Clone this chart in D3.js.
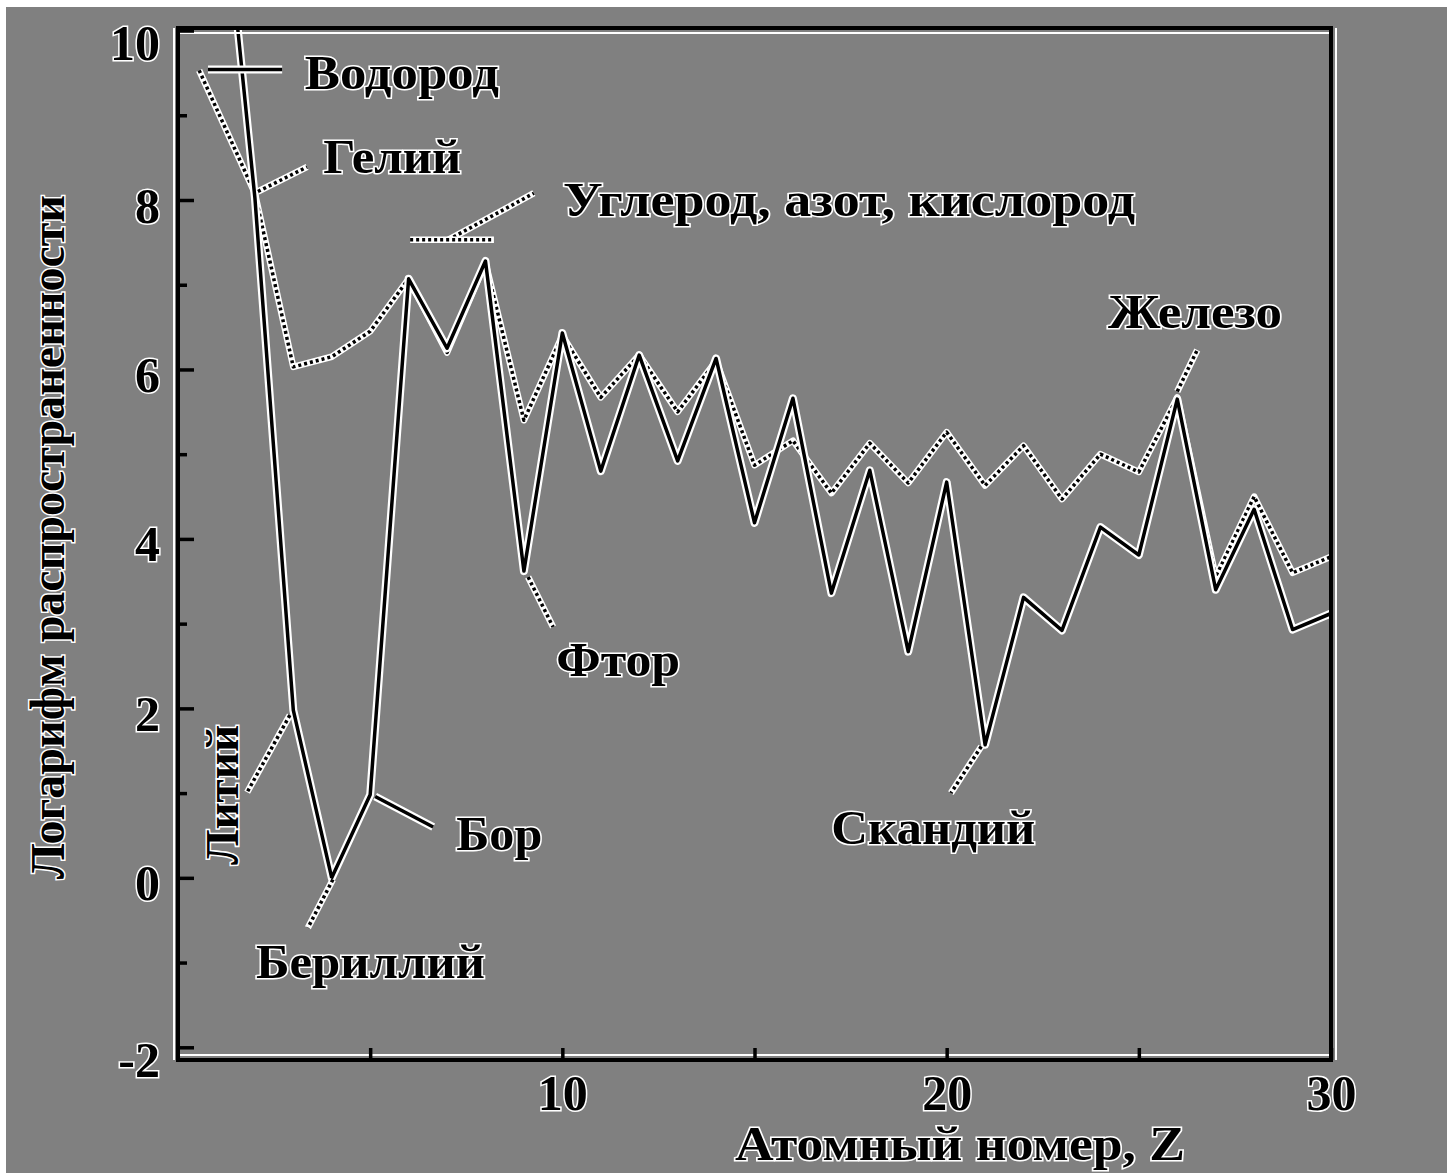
<html><head>
<title>Распространенность элементов</title>
<style>
body { margin: 0; background: #fff; }
svg { display: block; }
.lbl { font-family: "Liberation Serif", "DejaVu Serif", serif; font-weight: bold; fill: #000;
       stroke: #fff; stroke-width: 3px; paint-order: stroke fill; }
</style>
<script src="https://cdnjs.cloudflare.com/ajax/libs/d3/7.8.5/d3.min.js"></script>
</head>
<body>
<script>
// atomic number and log abundance
const solidZ = [1, 2, 3, 4, 5, 6, 7, 8, 9, 10, 11, 12, 13, 14, 15, 16, 17, 18, 19, 20,
                21, 22, 23, 24, 25, 26, 27, 28, 29, 30];
const solidValues = [12.5, 8.03, 1.98, 0.0, 0.98, 7.07, 6.25, 7.28, 3.62, 6.43, 4.8, 6.17, 4.92, 6.13, 4.19,
                     5.66, 3.36, 4.81, 2.67, 4.67, 1.57, 3.31, 2.92, 4.14, 3.81, 5.65, 3.4, 4.35, 2.93, 3.12];

const dottedZ = [0.55, 2, 3, 4, 5, 6, 7, 8, 9, 10, 11, 12, 13, 14, 15, 16, 17, 18, 19, 20,
                 21, 22, 23, 24, 25, 26, 27, 28, 29, 30];
const dottedValues = [9.53, 8.08, 6.03, 6.15, 6.45, 7.07, 6.2, 7.26, 5.4, 6.4, 5.67, 6.17, 5.5, 6.1, 4.87,
                      5.16, 4.54, 5.13, 4.66, 5.26, 4.63, 5.1, 4.47, 5.0, 4.79, 5.67, 3.55, 4.5, 3.6, 3.79];

const yMajor = [-2, 0, 2, 4, 6, 8, 10];
const yMinor = [-1, 1, 3, 5, 7, 9];
const xTicks = [5, 10, 15, 20, 25, 30];
const xLabelled = [10, 20, 30];

// element names: text, anchor point (z, v), width, leader from/to, leader style
const labels = [
  {text: "Водород", z: 3.3, v: 9.5, w: 194, from: [0.78, 9.54], to: [2.71, 9.54], style: "solid"},
  {text: "Гелий", z: 3.78, v: 8.5, w: 138, from: [2.08, 8.1], to: [3.36, 8.39], style: "dot"},
  {text: "Углерод, азот, кислород", z: 10.02, v: 8.0, w: 572, from: [7.03, 7.53], to: [9.26, 8.08], style: "dot"},
  {text: "Железо", z: 24.2, v: 6.68, w: 174, from: [26.0, 5.74], to: [26.52, 6.23], style: "dot"},
  {text: "Фтор", z: 9.84, v: 2.57, w: 124, from: [9.11, 3.55], to: [9.76, 2.96], style: "dot"},
  {text: "Скандий", z: 17.0, v: 0.59, w: 204, from: [20.9, 1.55], to: [20.11, 1.0], style: "dot"},
  {text: "Бор", z: 7.24, v: 0.51, w: 86, from: [5.13, 0.96], to: [6.64, 0.6], style: "solid"},
  {text: "Бериллий", z: 2.03, v: -1.0, w: 229, from: [4.03, -0.02], to: [3.38, -0.59], style: "dot"}
];
const lithium = {text: "Литий", z: 1.09, v: 0.98, w: 140, from: [2.91, 1.92], to: [1.8, 1.01]};
const cnoBracket = [[6.04, 7.53], [8.22, 7.53]];

const W = 1447, H = 1173;
const svg = d3.select("body").append("svg").attr("width", W).attr("height", H);

svg.append("rect").attr("x", 6).attr("y", 7).attr("width", W - 6).attr("height", H - 7).attr("fill", "#808080");

const x = d3.scaleLinear().domain([0, 30]).range([178, 1331]);
const y = d3.scaleLinear().domain([-2.15, 10.03]).range([1060, 28]);

const x0 = x(0), x1 = x(30), y0 = y(-2.15), y1 = y(10.03);

svg.append("clipPath").attr("id", "plot")
  .append("rect").attr("x", x0).attr("y", y1).attr("width", x1 - x0).attr("height", y0 - y1);

// line styles that imitate the embossed scan
function stroke(sel, style) {
  if (style === "solid") {
    sel.clone().attr("stroke", "#fff").attr("stroke-width", 8);
    sel.attr("stroke", "#000").attr("stroke-width", 3.5).raise();
  } else {
    sel.clone().attr("stroke", "#fff").attr("stroke-width", 6.5);
    sel.attr("stroke", "#000").attr("stroke-width", 3.5).attr("stroke-dasharray", "3,3").raise();
  }
}

const line = d3.line().x(d => x(d[0])).y(d => y(d[1]));
const g = svg.append("g").attr("clip-path", "url(#plot)");

const solidPts = solidZ.map((z, i) => [z, solidValues[i]]);
const dottedPts = dottedZ.map((z, i) => [z, dottedValues[i]]);

stroke(g.append("path").attr("d", line(dottedPts)).attr("fill", "none").attr("stroke-linejoin", "round"), "dot");
stroke(g.append("path").attr("d", line(solidPts)).attr("fill", "none").attr("stroke-linejoin", "round"), "solid");

// leaders
labels.concat([lithium]).forEach(l => {
  stroke(svg.append("path").attr("d", line([l.from, l.to])).attr("fill", "none"), l.style || "dot");
});
stroke(svg.append("path").attr("d", line(cnoBracket)).attr("fill", "none"), "dot");

// frame
const frame = svg.append("g");
frame.append("line").attr("x1", x0).attr("x2", x1).attr("y1", y1 + 5).attr("y2", y1 + 5).attr("stroke", "#fff").attr("stroke-width", 2);
frame.append("line").attr("x1", x0).attr("x2", x1).attr("y1", y0 - 5).attr("y2", y0 - 5).attr("stroke", "#fff").attr("stroke-width", 2);
frame.append("line").attr("x1", x0 - 4).attr("x2", x0 - 4).attr("y1", y1).attr("y2", y0).attr("stroke", "#fff").attr("stroke-width", 2);
frame.append("line").attr("x1", x1 + 5).attr("x2", x1 + 5).attr("y1", y1).attr("y2", y0).attr("stroke", "#fff").attr("stroke-width", 2);
frame.append("rect").attr("x", x0).attr("y", y1).attr("width", x1 - x0).attr("height", y0 - y1)
  .attr("fill", "none").attr("stroke", "#000").attr("stroke-width", 4);

// axes
const fontCss = "font-family:'Liberation Serif',serif;font-weight:bold;font-size:50px";

const yAxis = svg.append("g").attr("transform", `translate(${x0},0)`)
  .call(d3.axisLeft(y).tickValues(yMajor).tickSize(-16).tickPadding(18).tickFormat(d => d === -2 ? "-2" : d));
const yAxisMinor = svg.append("g").attr("transform", `translate(${x0},0)`)
  .call(d3.axisLeft(y).tickValues(yMinor).tickSize(-9).tickFormat(""));
const xAxis = svg.append("g").attr("transform", `translate(0,${y0})`)
  .call(d3.axisBottom(x).tickValues(xTicks).tickSize(-12).tickPadding(14)
    .tickFormat(d => xLabelled.includes(d) ? d : ""));

[yAxis, yAxisMinor, xAxis].forEach(a => {
  a.select(".domain").remove();
  a.selectAll(".tick line").attr("stroke", "#000").attr("stroke-width", 3.5);
  a.selectAll(".tick text").attr("class", "lbl").attr("style", fontCss).attr("fill", "#000");
});
// the scanned labels sit a little lower than their ticks
yAxis.selectAll(".tick text").attr("dy", d => (d === 10 || d === -2) ? 29 : 22);

// texts
labels.forEach(l => {
  svg.append("text").attr("class", "lbl")
    .attr("x", x(l.z)).attr("y", y(l.v)).attr("dy", "0.33em")
    .attr("font-size", 48).attr("textLength", l.w).attr("lengthAdjust", "spacingAndGlyphs")
    .text(l.text);
});

svg.append("text").attr("class", "lbl")
  .attr("transform", `translate(${x(lithium.z) + 18},${y(lithium.v)}) rotate(-90)`)
  .attr("text-anchor", "middle").attr("font-size", 46)
  .attr("textLength", lithium.w).attr("lengthAdjust", "spacingAndGlyphs")
  .text(lithium.text);

svg.append("text").attr("class", "lbl")
  .attr("x", 960).attr("y", 1160).attr("text-anchor", "middle")
  .attr("font-size", 48).attr("textLength", 450).attr("lengthAdjust", "spacingAndGlyphs")
  .text("Атомный номер, Z");

svg.append("text").attr("class", "lbl")
  .attr("transform", "translate(64,537) rotate(-90)").attr("text-anchor", "middle")
  .attr("font-size", 48).attr("textLength", 684).attr("lengthAdjust", "spacingAndGlyphs")
  .text("Логарифм распространенности");
</script>
</body>
</html>
